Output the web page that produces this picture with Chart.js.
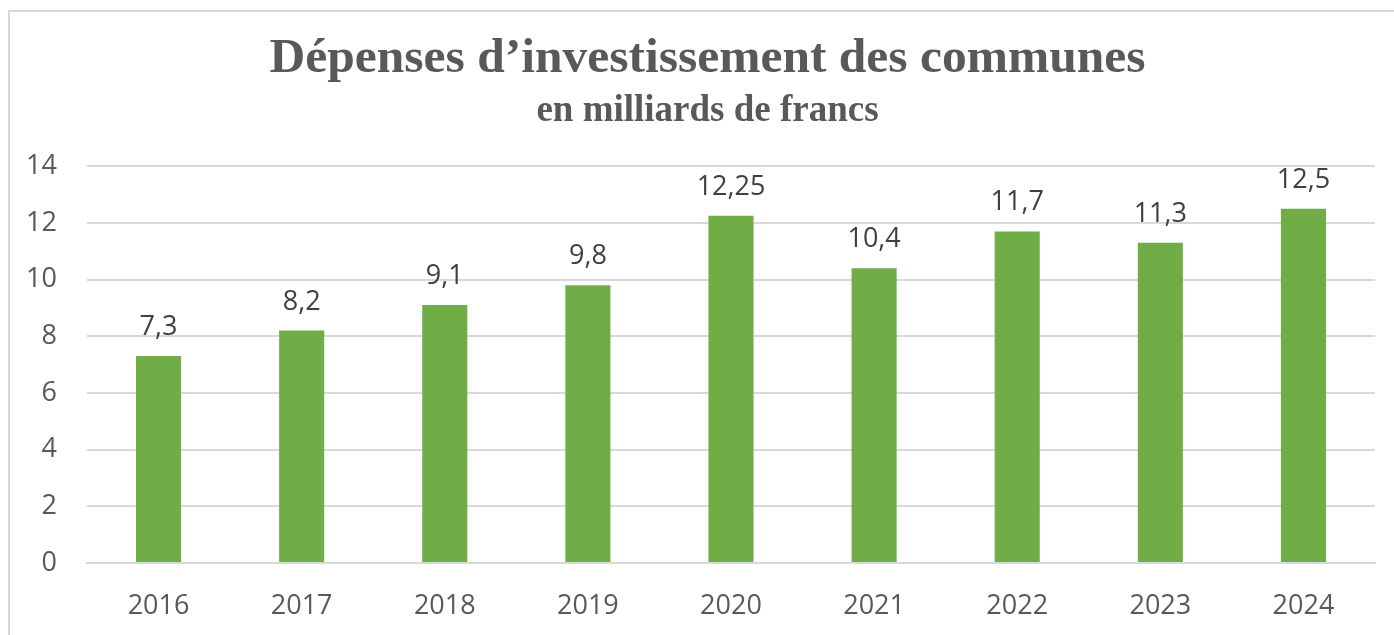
<!DOCTYPE html>
<html>
<head>
<meta charset="utf-8">
<script src="https://cdn.jsdelivr.net/npm/chart.js@4/dist/chart.umd.min.js"></script>
<style>
    body { margin: 0; background: #fff; overflow: hidden; }
    #frame { position: absolute; left: 8px; top: 10px; width: 1400px; height: 700px; border: 2px solid #d9d9d9; box-sizing: border-box; }
    #wrap { position: absolute; left: 0; top: 0; width: 1394px; height: 635px; }
</style>
</head>
<body>
<div id="frame"></div>
<div id="wrap"><canvas id="investChart"></canvas></div>
<script>
/* ================= DATA ================= */
const years = ["2016", "2017", "2018", "2019", "2020", "2021", "2022", "2023", "2024"];
const depenses = [7.3, 8.2, 9.1, 9.8, 12.25, 10.4, 11.7, 11.3, 12.5];
const yTicks = [0, 2, 4, 6, 8, 10, 12, 14];

const titleText = "Dépenses d’investissement des communes";
const subtitleText = "en milliards de francs";

/* ================= LABELS ABOVE BARS ================= */
const valueLabels = {
    id: "valueLabels",
    afterDatasetsDraw(chart) {
        const ctx = chart.ctx;
        const meta = chart.getDatasetMeta(0);
        ctx.save();
        ctx.font = "27px 'Open Sans'";
        ctx.fillStyle = "#404040";
        ctx.textAlign = "center";
        ctx.textBaseline = "alphabetic";
        meta.data.forEach((bar, i) => {
            const txt = String(depenses[i]).replace(".", ",");
            ctx.fillText(txt, bar.x, bar.y - 21);
        });
        ctx.restore();
    }
};

/* title in the original is centred a bit right of the plot centre */
const shiftTitles = {
    id: "shiftTitles",
    afterLayout(chart) {
        chart.boxes.forEach(b => {
            if (b.position === "top" && b.fullSize) {
                b.left = 40;
            }
        });
    }
};

/* ================= CHART ================= */
const ctx = document.getElementById("investChart");

new Chart(ctx, {
    type: "bar",
    data: {
        labels: years,
        datasets: [{
            label: "Dépenses",
            data: depenses,
            backgroundColor: "#70AD47",
            barPercentage: 0.315,
            categoryPercentage: 1
        }]
    },
    options: {
        responsive: true,
        maintainAspectRatio: false,
        animation: false,
        layout: { padding: { left: 0, right: 19, top: 0, bottom: 0 } },
        plugins: {
            legend: { display: false },
            tooltip: { enabled: false },
            title: {
                display: true,
                text: titleText,
                color: "#595959",
                font: { family: "'Liberation Serif'", size: 49.5, weight: "bold", lineHeight: 1.2 },
                padding: { top: 30, bottom: 3 }
            },
            subtitle: {
                display: true,
                text: subtitleText,
                color: "#595959",
                font: { family: "'Liberation Serif'", size: 37, weight: "bold", lineHeight: 1.05 },
                padding: { top: 0, bottom: 35 }
            }
        },
        scales: {
            x: {
                grid: { display: false, drawTicks: false },
                border: { display: true, color: "#d9d9d9", width: 2 },
                ticks: {
                    color: "#595959",
                    font: { family: "'Open Sans'", size: 27 },
                    padding: 27,
                    maxRotation: 0
                },
                afterFit(scale) { scale.height = 72; }
            },
            y: {
                min: 0,
                max: 14,
                grid: { color: "#d9d9d9", lineWidth: 2, drawTicks: false },
                border: { display: false },
                afterBuildTicks(scale) {
                    scale.ticks = yTicks.map(v => ({ value: v }));
                },
                ticks: {
                    color: "#595959",
                    font: { family: "'Open Sans'", size: 27 },
                    padding: 30
                },
                afterFit(scale) { scale.width = 87; }
            }
        }
    },
    plugins: [valueLabels, shiftTitles]
});
</script>
</body>
</html>
